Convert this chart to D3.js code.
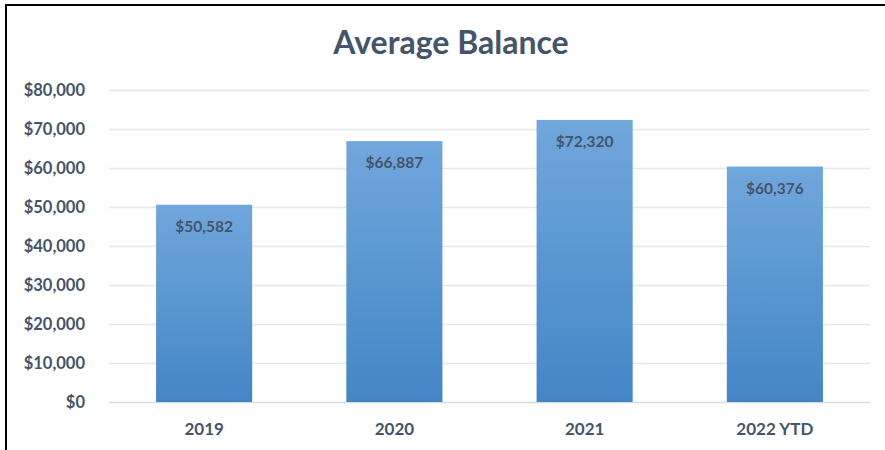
<!DOCTYPE html>
<html>
<head>
<meta charset="utf-8">
<script src="https://cdn.jsdelivr.net/npm/d3@7"></script>
<style>
  body { margin: 0; background: #fff; }
  text { font-family: Lato, "Open Sans", sans-serif; font-weight: bold; fill: #44546A; }
</style>
</head>
<body>
<div id="chart"></div>
<script>
var years = ["2019", "2020", "2021", "2022 YTD"];
var balances = [50582, 66887, 72320, 60376];
var tickVals = [0, 10000, 20000, 30000, 40000, 50000, 60000, 70000, 80000];

var W = 885, H = 450;
var margin = { top: 90, right: 15, bottom: 48, left: 109 };
var inner_width = W - margin.left - margin.right;
var inner_height = H - margin.top - margin.bottom;

var svg = d3.select("#chart").append("svg")
  .attr("width", W).attr("height", H);

// frame lines (top and left)
svg.append("line").attr("x1", 5).attr("x2", W).attr("y1", 5).attr("y2", 5)
  .attr("stroke", "#000").attr("stroke-width", 2);
svg.append("line").attr("x1", 6).attr("x2", 6).attr("y1", 4).attr("y2", H)
  .attr("stroke", "#000").attr("stroke-width", 2);

// gradient per bar, light on top
var grad = svg.append("defs").append("linearGradient").attr("id", "barGrad")
  .attr("x1", 0).attr("x2", 0)
  .attr("y1", 0).attr("y2", 1);
grad.append("stop").attr("offset", "0%").attr("stop-color", "#70A7DC");
grad.append("stop").attr("offset", "100%").attr("stop-color", "#4386C6");

svg.append("text")
  .attr("x", 451).attr("y", 54)
  .attr("text-anchor", "middle")
  .style("font-size", "32px")
  .text("Average Balance");

var g = svg.append("g")
  .attr("transform", "translate(" + margin.left + "," + margin.top + ")");

var x = d3.scaleBand().domain(years).range([0, inner_width]).paddingInner(0.495).paddingOuter(0.2475);
var y = d3.scaleLinear().domain([0, 80000]).range([inner_height, 0]);

g.append("g")
  .selectAll("line")
  .data(tickVals)
  .enter().append("line")
  .attr("x1", 0).attr("x2", inner_width)
  .attr("y1", function(d) { return y(d) + 0.5; })
  .attr("y2", function(d) { return y(d) + 0.5; })
  .attr("stroke", function(d) { return d === 0 ? "#D6DCE4" : "#E4E7EB"; })
  .attr("stroke-width", 1.5);

var yAxis = g.append("g")
  .call(d3.axisLeft(y).tickValues(tickVals).tickSize(0).tickPadding(24)
    .tickFormat(function(d) { return "$" + d3.format(",")(d); }));
yAxis.select(".domain").remove();
yAxis.selectAll("text").style("font-size", "16.5px").attr("font-family", null).attr("fill", null);

g.selectAll(".bar")
  .data(balances)
  .enter().append("rect")
  .attr("class", "bar")
  .attr("x", function(d, i) { return x(years[i]); })
  .attr("y", function(d) { return y(d); })
  .attr("width", x.bandwidth())
  .attr("height", function(d) { return inner_height - y(d); })
  .style("fill", "url(#barGrad)");

g.selectAll(".lbl")
  .data(balances)
  .enter().append("text")
  .attr("class", "lbl")
  .attr("x", function(d, i) { return x(years[i]) + x.bandwidth() / 2; })
  .attr("y", function(d) { return y(d) + 27; })
  .attr("text-anchor", "middle")
  .style("font-size", "15.5px")
  .text(function(d) { return "$" + d3.format(",")(d); });

var xAxis = g.append("g")
  .attr("transform", "translate(0," + inner_height + ")")
  .call(d3.axisBottom(x).tickSize(0).tickPadding(21));
xAxis.select(".domain").remove();
xAxis.selectAll("text").style("font-size", "17px").attr("font-family", null).attr("fill", null);
</script>
</body>
</html>
